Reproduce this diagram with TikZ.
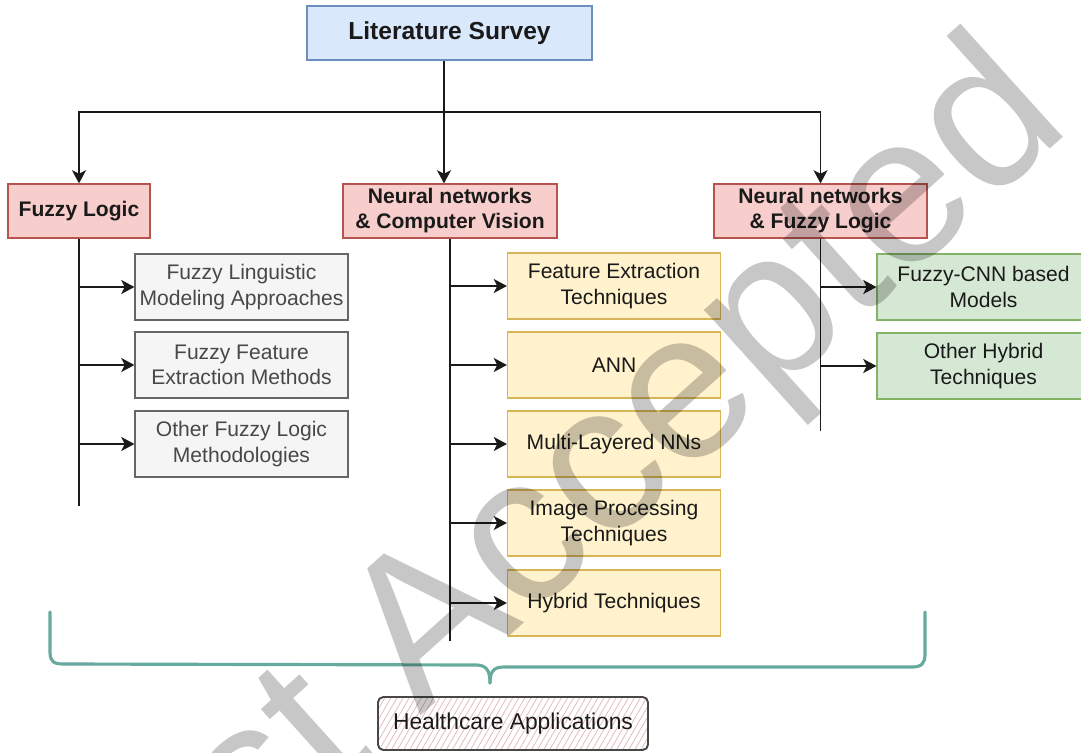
\documentclass[tikz,border=0pt]{standalone}
\usepackage{fontspec}
\setmainfont{Liberation Sans}
\usepackage{tikz}
\definecolor{ink}{HTML}{1A1A1A}
\definecolor{surveybg}{HTML}{DAE8FC}
\definecolor{surveyline}{HTML}{6C8EBF}
\definecolor{topicbg}{HTML}{F8CECC}
\definecolor{topicline}{HTML}{B85450}
\definecolor{graybg}{HTML}{F5F5F5}
\definecolor{grayline}{HTML}{666666}
\definecolor{yellowbg}{HTML}{FFF2CC}
\definecolor{yellowline}{HTML}{D6B656}
\definecolor{greenbg}{HTML}{D5E8D4}
\definecolor{greenline}{HTML}{82B366}
\definecolor{bracecol}{HTML}{67AB9F}
\usetikzlibrary{
  arrows.meta,
  positioning,
  calc,
  patterns.meta
}
\tikzset{
  >={Stealth[length=7.5pt, width=8pt, inset=2pt]},
  every node/.style={font=\fontsize{12}{14.6}\selectfont, text=ink},
  block/.style={
    draw,
    line width=0.7pt,
    align=center,
    inner sep=2pt
  },
  survey/.style={block, draw=surveyline, fill=surveybg, minimum width=5.7cm, minimum height=1.08cm,
    font=\fontsize{14}{16}\selectfont\bfseries},
  topic/.style={block, draw=topicline, fill=topicbg, minimum height=1.08cm,
    font=\fontsize{12}{14.2}\selectfont\bfseries},
  leaf/.style={block, minimum width=4.26cm, minimum height=1.32cm},
  leafG/.style={leaf, draw=grayline, fill=graybg, text=ink!80},
  leafY/.style={leaf, draw=yellowline, fill=yellowbg},
  leafV/.style={leaf, draw=greenline, fill=greenbg},
  health/.style={
    draw=ink!80,
    line width=1.1pt,
    rounded corners=3pt,
    minimum width=5.4cm,
    minimum height=1.06cm,
    pattern={Lines[angle=60, distance=3pt, line width=0.45pt]},
    pattern color=topicline!40,
    font=\fontsize{13}{15}\selectfont
  },
  arrow/.style={->, line width=0.85pt, draw=ink},
  trunk/.style={line width=0.85pt, draw=ink},
  brace/.style={line width=1.8pt, draw=bracecol, line cap=round, line join=round},
  watermark/.style={font=\fontsize{120}{122}\selectfont, text=black, text opacity=0.22, inner sep=0pt}
}

\begin{document}
\begin{tikzpicture}[x=0.02cm, y=-0.02cm]
  \useasboundingbox (0,0) rectangle (1081,753);

  % Root and the three topics
  \node[survey] (survey) at (449.5,33) {Literature Survey};
  \node[topic, minimum width=2.84cm] (fuzzy) at (79,211) {Fuzzy Logic};
  \node[topic, minimum width=4.28cm] (nncv) at (450,211) {Neural networks\\\& Computer Vision};
  \node[topic, minimum width=4.26cm] (nnfl) at (820.5,211) {Neural networks\\\& Fuzzy Logic};

  \coordinate (hub) at (444,112);
  \draw[trunk] (survey.south -| hub) -- (hub);
  \draw[arrow] (hub) -| (fuzzy.north);
  \draw[arrow] (hub) -| (nnfl.north);
  \draw[arrow] (hub) -- (hub |- nncv.north);

  % Fuzzy logic leaves
  \node[leafG] (fz1) at (241.5,287) {Fuzzy Linguistic\\Modeling Approaches};
  \node[leafG] (fz2) at (241.5,365) {Fuzzy Feature\\Extraction Methods};
  \node[leafG] (fz3) at (241.5,444) {Other Fuzzy Logic\\Methodologies};
  \draw[trunk] (fuzzy.south) -- ++(0,267);
  \foreach \n in {fz1,fz2,fz3}
    \draw[arrow] (fuzzy.south |- \n.west) -- (\n.west);

  % Neural networks and computer vision leaves
  \node[leafY] (cv1) at (614,286) {Feature Extraction\\Techniques};
  \node[leafY] (cv2) at (614,365) {ANN};
  \node[leafY] (cv3) at (614,444) {Multi-Layered NNs};
  \node[leafY] (cv4) at (614,523) {Image Processing\\Techniques};
  \node[leafY] (cv5) at (614,603) {Hybrid Techniques};
  \draw[trunk] (nncv.south) -- ++(0,402);
  \foreach \n in {cv1,cv2,cv3,cv4,cv5}
    \draw[arrow] (nncv.south |- \n.west) -- (\n.west);

  % Hybrid leaves
  \node[leafV] (hy1) at (983.5,287) {Fuzzy-CNN based\\Models};
  \node[leafV] (hy2) at (983.5,366) {Other Hybrid\\Techniques};
  \draw[trunk] (nnfl.south) -- ++(0,192);
  \foreach \n in {hy1,hy2}
    \draw[arrow] (nnfl.south |- \n.west) -- (\n.west);

  % Brace over everything
  \draw[brace] (50,612) -- (50,652) .. controls (50,662) and (54,664) .. (64,664)
    -- (476,665) .. controls (486,665) and (490,670) .. (490,683);
  \draw[brace] (490,683) .. controls (490,671) and (494,667) .. (504,667)
    -- (912,667) .. controls (922,667) and (925,663) .. (925,654) -- (925,612);

  \node[health] (care) at (513,723.5) {Healthcare Applications};

  % Watermark
  \node[watermark, anchor=base east, rotate=42] (mark) at (1074,128) {Just Accepted};
\end{tikzpicture}
\end{document}
